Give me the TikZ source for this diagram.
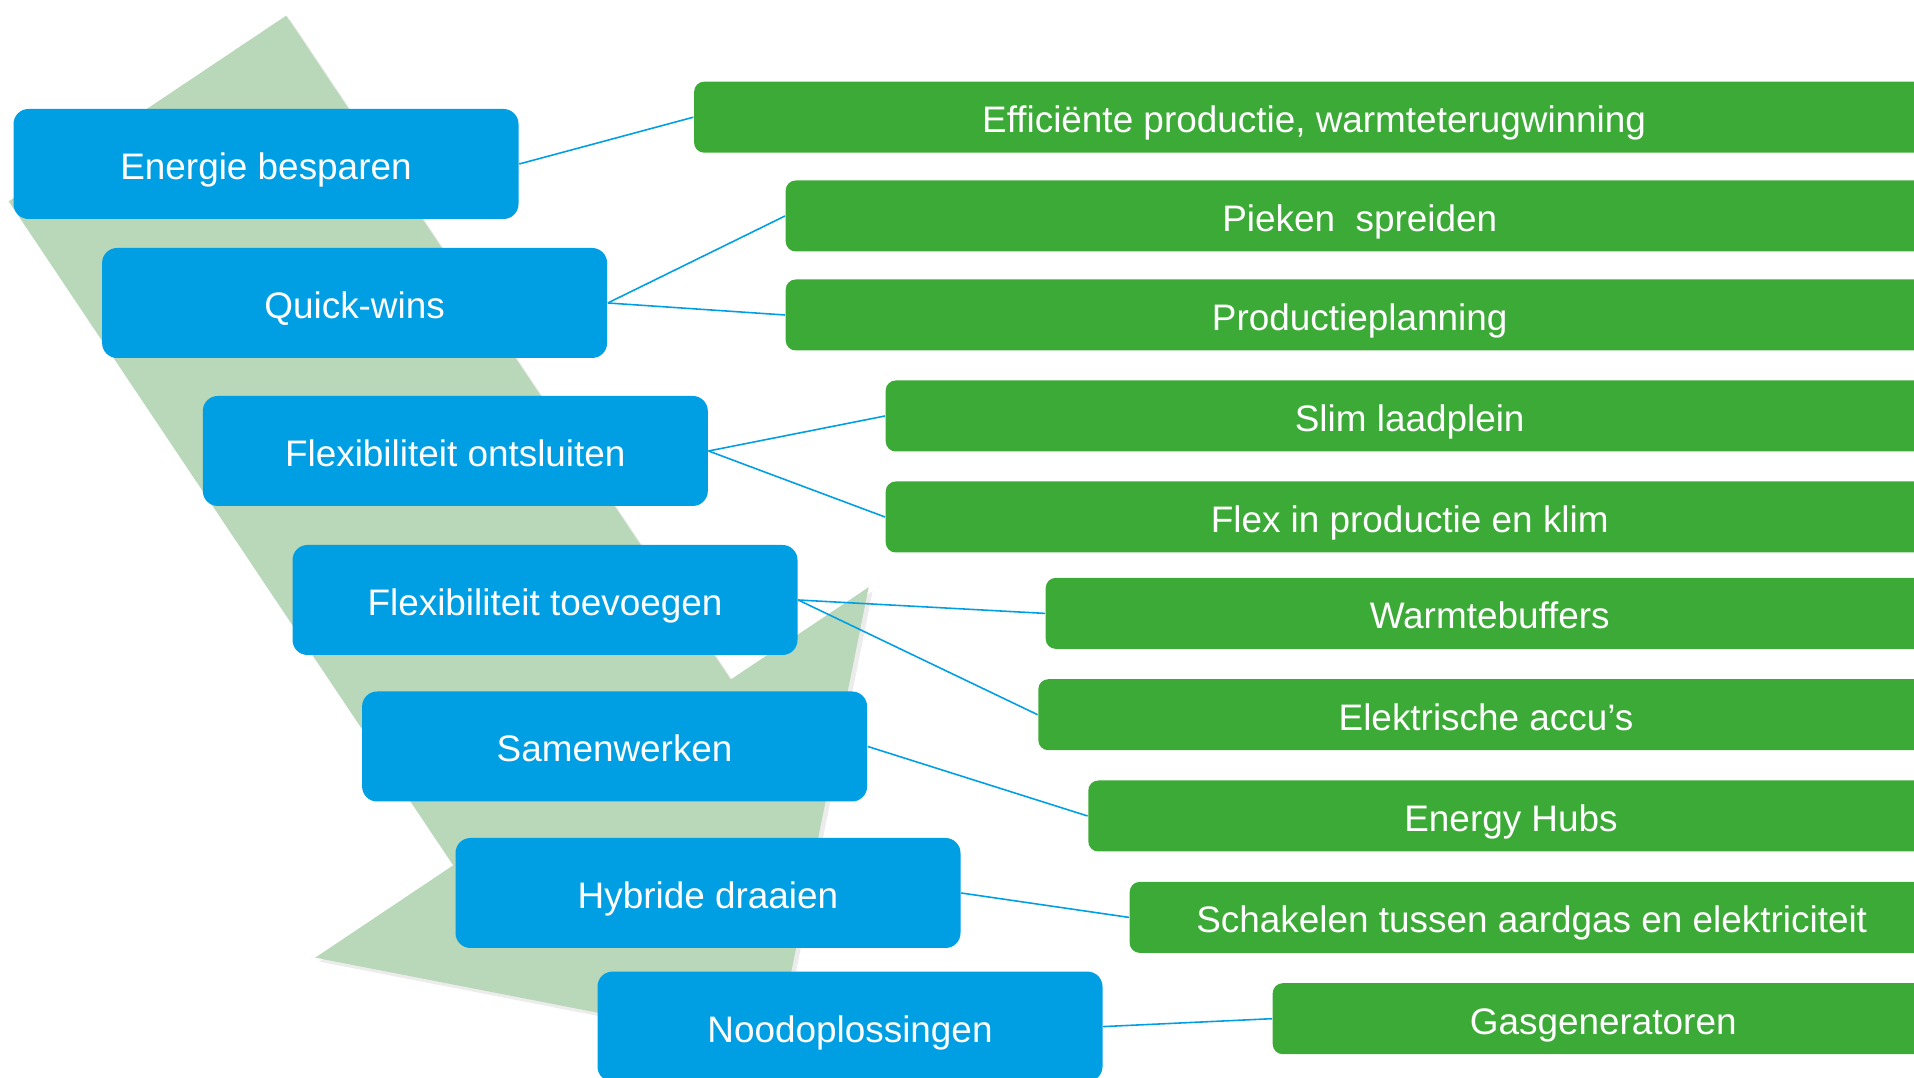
\documentclass[tikz,border=0pt]{standalone}
\usepackage{fontspec}
\setmainfont{Liberation Sans}
\usepackage{tikz}
\usetikzlibrary{
  shadows,%
  positioning
}
\definecolor{stratblue}{HTML}{009FE3}
\definecolor{measuregreen}{HTML}{3CAA36}
\definecolor{arrowgreen}{HTML}{B9D7B9}
\tikzset{font=\fontsize{10.5}{12.6}\selectfont}
\tikzset{strategy/.style={rectangle, rounded corners=0.15cm, fill=stratblue,
    text=white, minimum width=5.05cm, minimum height=1.1cm, inner sep=0pt,
    text height=8.8pt, text depth=0pt}}
\tikzset{measure/.style={rectangle, rounded corners=0.1cm, fill=measuregreen,
    text=white, minimum height=0.71cm, inner sep=0pt, anchor=west,
    text height=8.8pt, text depth=0pt}}
\tikzset{link/.style={draw=stratblue, line width=0.45pt}}
\tikzset{bigarrow/.style={fill=arrowgreen,
    drop shadow={shadow xshift=0.04cm, shadow yshift=-0.04cm, opacity=0.15}}}

\begin{document}
\begin{tikzpicture}
  \useasboundingbox (0, 0) rectangle (19.14, -10.78); %
  \clip (0, 0) rectangle (19.14, -10.78); %
  % the broad arrow behind the steps
  \begin{scope}[shift={(1.475, -1.085)}, rotate=-56.2]
    \fill[bigarrow] (0, -1.67) -- (7.99, -1.67) -- (7.99, -3.33) -- (11.3, 0)
    -- (7.99, 3.33) -- (7.99, 1.67) -- (0, 1.67) -- cycle; %
  \end{scope}
  % steps
  \node[strategy] (save) at (2.66, -1.64) {Energie besparen}; %
  \node[strategy] (quick) at (3.546, -3.03) {Quick-wins}; %
  \node[strategy] (unlock) at (4.553, -4.51) {Flexibiliteit ontsluiten}; %
  \node[strategy] (addflex) at (5.45, -6.0) {Flexibiliteit toevoegen}; %
  \node[strategy] (cooperate) at (6.146, -7.465) {Samenwerken}; %
  \node[strategy] (hybrid) at (7.08, -8.93) {Hybride draaien}; %
  \node[strategy] (emergency) at (8.50, -10.266) {Noodoplossingen}; %
  % measures
  \node[measure, minimum width=12.40cm] (efficient) at (6.934, -1.172)
  {Efficiënte productie, warmteterugwinning}; %
  \node[measure, minimum width=11.48cm] (peaks) at (7.85, -2.16)
  {Pieken\ \ spreiden}; %
  \node[measure, minimum width=11.48cm] (planning) at (7.85, -3.15)
  {Productieplanning}; %
  \node[measure, minimum width=10.48cm] (charging) at (8.85, -4.16)
  {Slim laadplein}; %
  \node[measure, minimum width=10.48cm] (flexprod) at (8.85, -5.17)
  {Flex in productie en klim}; %
  \node[measure, minimum width=8.88cm] (heatbuf) at (10.45, -6.134)
  {Warmtebuffers}; %
  \node[measure, minimum width=8.954cm] (batteries) at (10.376, -7.147)
  {Elektrische accu’s}; %
  \node[measure, minimum width=8.454cm] (hubs) at (10.876, -8.16)
  {Energy Hubs}; %
  \node[measure, minimum width=8.04cm] (switching) at (11.29, -9.174)
  {Schakelen tussen aardgas en elektriciteit}; %
  \node[measure, minimum width=6.61cm] (gensets) at (12.72, -10.187)
  {Gasgeneratoren}; %
  % connectors
  \draw[link] (save.east) -- (efficient.west); %
  \draw[link] (quick.east) -- (peaks.west); %
  \draw[link] (quick.east) -- (planning.west); %
  \draw[link] (unlock.east) -- (charging.west); %
  \draw[link] (unlock.east) -- (flexprod.west); %
  \draw[link] (addflex.east) -- (heatbuf.west); %
  \draw[link] (addflex.east) -- (batteries.west); %
  \draw[link] (cooperate.east) -- (hubs.west); %
  \draw[link] (hybrid.east) -- (switching.west); %
  \draw[link] (emergency.east) -- (gensets.west); %
\end{tikzpicture}
\end{document}
